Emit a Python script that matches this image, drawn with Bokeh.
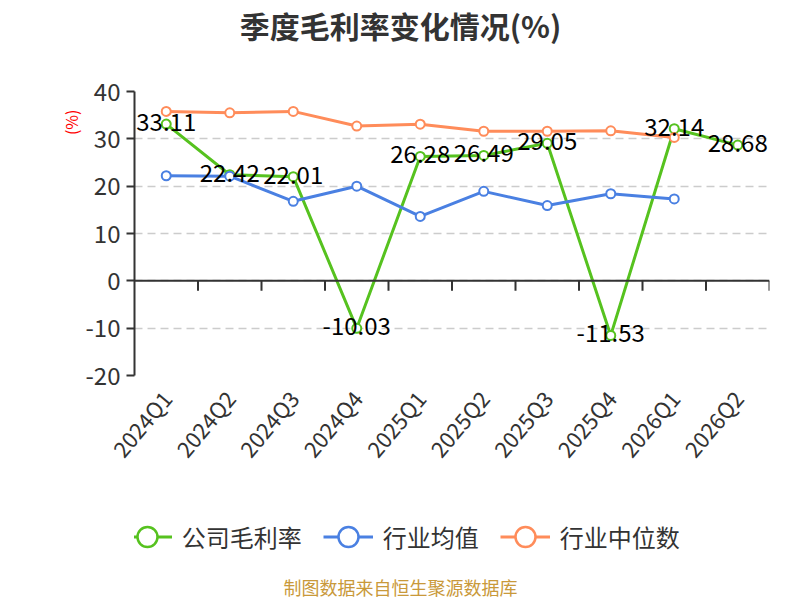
import numpy as np
from bokeh.plotting import figure
from bokeh.layouts import column
from bokeh.models import Range1d, FixedTicker, Span, Legend, LegendItem, Title
from bokeh.core.properties import value
from bokeh.embed import file_html
from bokeh.resources import INLINE

# ---- data ----
categories = ["2024Q1", "2024Q2", "2024Q3", "2024Q4", "2025Q1",
              "2025Q2", "2025Q3", "2025Q4", "2026Q1", "2026Q2"]
company_margin = [33.11, 22.42, 22.01, -10.03, 26.28, 26.49, 29.05, -11.53, 32.14, 28.68]
industry_avg = [22.2, 22.1, 16.8, 20.0, 13.6, 18.9, 15.9, 18.4, 17.3]
industry_median = [35.8, 35.5, 35.8, 32.7, 33.1, 31.6, 31.6, 31.7, 30.3]
y_ticks = [-20, -10, 0, 10, 20, 30, 40]
y_tick_labels = ["-20", "-10", "0", "10", "20", "30", "40"]

series_names = ["公司毛利率", "行业均值", "行业中位数"]
colors = ["#56c21f", "#4a80e2", "#ff8c5a"]
title_text = "季度毛利率变化情况(%)"
footer_text = "制图数据来自恒生聚源数据库"
FONT = "Noto Sans CJK SC"

n = len(categories)
xc = np.arange(n) + 0.5          # category centres
bounds = np.arange(1, n + 1)     # category boundaries (tick marks)

FRAME_L, FRAME_R = 134, 769      # page x extent of the plot frame


def strip(height):
    """A figure without axes whose data units are page pixels (x) and pixels from its top (y)."""
    s = figure(width=800, height=height, output_backend="svg", toolbar_location=None,
               x_range=Range1d(FRAME_L, FRAME_R), y_range=Range1d(height, 0),
               x_axis_type=None, y_axis_type=None, min_border=0,
               min_border_left=FRAME_L, min_border_right=800 - FRAME_R)
    s.outline_line_color = None
    s.grid.visible = False
    return s


# ---- top strip: title ----
p0 = strip(60)
p0.text(x=[400], y=[24], text=[title_text], text_align="center", text_baseline="middle",
        text_font=value(FONT), text_font_size="30px", text_font_style="bold",
        text_color="#333333")

# ---- main chart ----
p = figure(frame_width=FRAME_R - FRAME_L, frame_height=284, output_backend="svg",
           toolbar_location=None, title=None,
           x_range=Range1d(0, n), y_range=Range1d(y_ticks[0], y_ticks[-1]),
           min_border_left=FRAME_L, min_border_right=800 - FRAME_R, min_border_top=31,
           min_border_bottom=95)
p.outline_line_color = None
p.background_fill_color = "white"

# y axis
p.yaxis.ticker = FixedTicker(ticks=y_ticks)
p.yaxis.major_label_overrides = dict(zip(y_ticks, y_tick_labels))
p.yaxis.axis_line_color = "#333333"
p.yaxis.axis_line_width = 2
p.yaxis.major_tick_line_color = "#333333"
p.yaxis.major_tick_line_width = 2
p.yaxis.major_tick_out = 8
p.yaxis.major_tick_in = 0
p.yaxis.minor_tick_line_color = None
p.yaxis.major_label_text_font = FONT
p.yaxis.major_label_text_font_size = "24px"
p.yaxis.major_label_text_color = "#333333"
p.yaxis.major_label_standoff = 6

# unit label on the left
p.add_layout(Title(text="(%)", align="right", offset=18, standoff=0, text_font=FONT,
                   text_font_size="16px", text_font_style="normal",
                   text_color="#ff0000"), "left")

# x axis (labels only)
p.xaxis.ticker = FixedTicker(ticks=list(xc))
p.xaxis.major_label_overrides = {float(x): c for x, c in zip(xc, categories)}
p.xaxis.axis_line_color = None
p.xaxis.major_tick_line_color = None
p.xaxis.minor_tick_line_color = None
p.xaxis.major_label_orientation = np.deg2rad(50)
p.xaxis.major_label_text_font = FONT
p.xaxis.major_label_text_font_size = "22px"
p.xaxis.major_label_text_color = "#333333"
p.xaxis.major_label_standoff = 12

# grid
p.xgrid.visible = False
p.ygrid.ticker = FixedTicker(ticks=y_ticks)
p.ygrid.grid_line_color = "#cccccc"
p.ygrid.grid_line_width = 1.5
p.ygrid.grid_line_dash = "8 5"

# zero axis line with tick marks between categories
p.add_layout(Span(location=0, dimension="width", line_color="#333333", line_width=2))
px_per_unit = 284 / (y_ticks[-1] - y_ticks[0])
p.segment(x0=bounds, y0=0, x1=bounds, y1=-10 / px_per_unit, line_color="#333333", line_width=2)

# series
series = [(company_margin, 0), (industry_avg, 1), (industry_median, 2)]
for vals, i in series:
    xs = xc[:len(vals)]
    p.line(xs, vals, line_color=colors[i], line_width=3)
    p.scatter(xs, vals, size=9, fill_color="white", line_color=colors[i], line_width=2)

# data labels for company margin
p.text(xc, company_margin, text=[f"{v:.2f}" for v in company_margin],
       text_align="center", text_baseline="middle", y_offset=-2,
       text_font=value(FONT), text_font_size="24px", text_color="#000000")

# ---- bottom strip: legend and source note ----
H2 = 123
p2 = strip(H2)
items = []
for vals, i in series:
    xs = xc[:len(vals)]          # outside the strip's visible range; used for legend glyphs
    lr = p2.line(xs, vals, line_color=colors[i], line_width=3)
    sr = p2.scatter(xs, vals, size=9, fill_color="white", line_color=colors[i], line_width=2.5)
    items.append(LegendItem(label=series_names[i], renderers=[lr, sr]))

legend = Legend(items=items, orientation="horizontal", location=(-12.3, 35.5),
                glyph_width=50, glyph_height=55, label_standoff=10, spacing=21,
                padding=0, margin=0, border_line_color=None, background_fill_alpha=0,
                label_text_font=FONT, label_text_font_size="24px",
                label_text_color="#333333")
p2.add_layout(legend, "center")

p2.text(x=[400], y=[110], text=[footer_text], text_align="center", text_baseline="middle",
        text_font=value(FONT), text_font_size="18px", text_color="#c9993a")

layout = column(p0, p, p2, spacing=0)
open("out.html", "w").write(file_html(layout, INLINE))
